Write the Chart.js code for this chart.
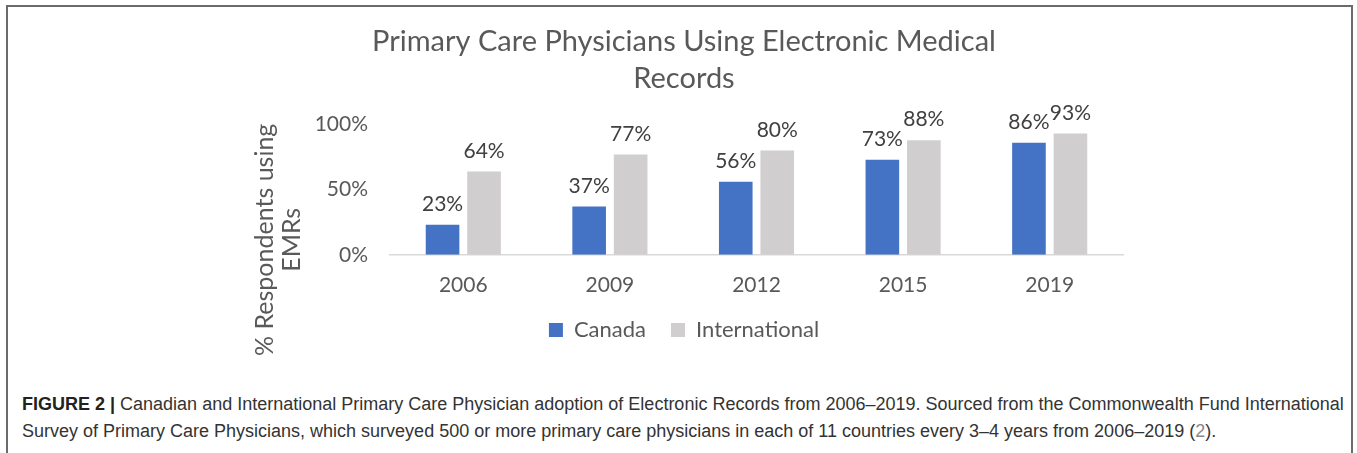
<!DOCTYPE html>
<html>
<head>
<meta charset="utf-8">
<script src="https://cdn.jsdelivr.net/npm/chart.js@4.4.0/dist/chart.umd.min.js"></script>
<style>
  html, body { margin: 0; padding: 0; background: #fff; }
  #frame {
    position: absolute; left: 6px; top: 5px; width: 1347px; height: 470px;
    border: 2px solid #6b6b6b; box-sizing: border-box;
  }
  #chart-wrapper { position: absolute; left: 230px; top: 15px; width: 908px; height: 348px; }
  .caption {
    position: absolute; left: 22px; width: 1330px;
    font-family: "Liberation Sans Narrow", "Liberation Sans", Arial, sans-serif;
    font-size: 18px; color: #333; white-space: nowrap;
  }
  .caption b { font-weight: bold; color: #222; }
  .caption .ref { color: #888; }
</style>
</head>
<body>
<div id="frame"></div>
<div id="chart-wrapper">
    <canvas id="emrChart"></canvas>
</div>
<div class="caption" style="top:394px"><b>FIGURE 2 |</b> Canadian and International Primary Care Physician adoption of Electronic Records from 2006–2019. Sourced from the Commonwealth Fund International</div>
<div class="caption" style="top:421px">Survey of Primary Care Physicians, which surveyed 500 or more primary care physicians in each of 11 countries every 3–4 years from 2006–2019 (<span class="ref">2</span>).</div>
<script>
    var years = ['2006', '2009', '2012', '2015', '2019'];
    var canada = [23, 37, 56, 73, 86];
    var international = [64, 77, 80, 88, 93];
    var yTicks = [0, 50, 100];

    var textColor = '#595959';
    var fontFamily = 'Lato, "Open Sans", sans-serif';

    // value labels above each bar
    var barLabels = {
        id: 'barLabels',
        afterDatasetsDraw: function (chart) {
            var ctx = chart.ctx;
            ctx.save();
            ctx.font = '21px ' + fontFamily;
            ctx.fillStyle = '#404040';
            ctx.textAlign = 'center';
            ctx.textBaseline = 'bottom';
            chart.data.datasets.forEach(function (ds, i) {
                chart.getDatasetMeta(i).data.forEach(function (bar, j) {
                    ctx.fillText(ds.data[j] + '%', bar.x, bar.y - 10);
                });
            });
            ctx.restore();
        }
    };

    // two-line rotated axis title on the left
    var yTitle = {
        id: 'yTitle',
        afterDraw: function (chart) {
            var ctx = chart.ctx;
            var a = chart.chartArea;
            ctx.save();
            ctx.font = '25px ' + fontFamily;
            ctx.fillStyle = textColor;
            ctx.textAlign = 'center';
            ctx.textBaseline = 'middle';
            ctx.translate(a.left - 125, a.bottom - 15);
            ctx.rotate(-Math.PI / 2);
            ctx.fillText('% Respondents using', 0, 0);
            ctx.fillText('EMRs', 0, 27);
            ctx.restore();
        }
    };

    var chart = new Chart('emrChart', {
        type: 'bar',
        data: {
            labels: years,
            datasets: [{
                label: 'Canada',
                data: canada,
                backgroundColor: '#4472C4',
                barPercentage: 0.81,
                categoryPercentage: 0.566
            }, {
                label: 'International',
                data: international,
                backgroundColor: '#D0CECE',
                barPercentage: 0.81,
                categoryPercentage: 0.566
            }]
        },
        options: {
            animation: false,
            responsive: true,
            maintainAspectRatio: false,
            layout: { padding: { left: 15, right: 15, top: 0, bottom: 12 } },
            scales: {
                x: {
                    afterFit: function (scale) { scale.height -= 14; },
                    grid: { display: false },
                    border: { display: true, color: '#D9D9D9', width: 1.5 },
                    ticks: { color: textColor, font: { family: fontFamily, size: 21 }, padding: 10 }
                },
                y: {
                    min: 0,
                    max: 100,
                    afterBuildTicks: function (scale) {
                        scale.ticks = yTicks.map(function (v) { return { value: v }; });
                    },
                    afterFit: function (scale) { scale.width = 145; },
                    grid: { display: false },
                    border: { display: false },
                    ticks: {
                        color: textColor,
                        padding: 14,
                        font: { family: fontFamily, size: 21 },
                        callback: function (v) { return v + '%'; }
                    }
                }
            },
            plugins: {
                title: {
                    display: true,
                    text: ['Primary Care Physicians Using Electronic Medical', 'Records'],
                    color: textColor,
                    font: { family: fontFamily, size: 29, weight: 'normal', lineHeight: 1.25 },
                    padding: { top: 9, bottom: 28 }
                },
                legend: {
                    position: 'bottom',
                    labels: {
                        color: textColor,
                        font: { family: fontFamily, size: 22 },
                        boxWidth: 14,
                        boxHeight: 14,
                        padding: 25
                    }
                },
                tooltip: { enabled: false }
            }
        },
        plugins: [barLabels, yTitle]
    });
</script>
</body>
</html>
